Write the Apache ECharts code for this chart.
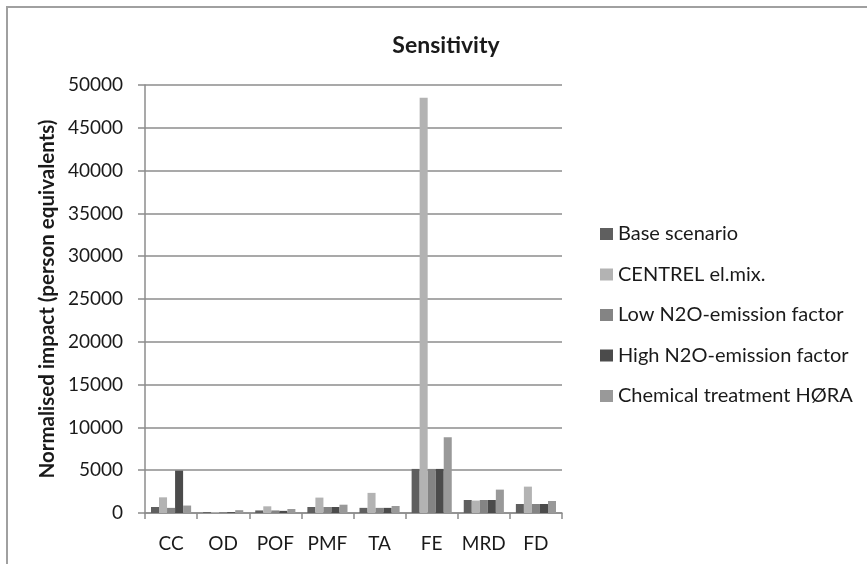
<!DOCTYPE html>
<html>
<head>
<meta charset="utf-8">
<script src="https://cdn.jsdelivr.net/npm/echarts@6/dist/echarts.min.js"></script>
<style>
  html, body { margin: 0; padding: 0; background: #fff; }
  #frame { position: absolute; left: 6px; top: 6px; width: 880px; height: 580px; border: 2px solid #a0a0a0; box-sizing: border-box; }
  #chart { position: absolute; left: 0; top: 0; width: 867px; height: 564px; }
</style>
</head>
<body>
<div id="frame"></div>
<div id="chart"></div>
<script>
// Impact categories on the x axis
const categories = ['CC', 'OD', 'POF', 'PMF', 'TA', 'FE', 'MRD', 'FD'];

// Normalised impact per scenario (person equivalents)
const baseScenario   = [700, 100, 300, 700, 600, 5150, 1520, 1050];
const centrelMix     = [1830, 100, 780, 1800, 2350, 48500, 1450, 3080];
const lowN2O         = [600, 100, 300, 700, 600, 5150, 1520, 1050];
const highN2O        = [4950, 100, 250, 700, 600, 5150, 1520, 1050];
const chemicalHora   = [870, 330, 470, 970, 820, 8850, 2730, 1400];

const seriesNames = ['Base scenario', 'CENTREL el.mix.', 'Low N2O-emission factor',
                     'High N2O-emission factor', 'Chemical treatment HØRA'];
const seriesData = [baseScenario, centrelMix, lowN2O, highN2O, chemicalHora];
const seriesColors = ['#5f5f5f', '#b3b3b3', '#848484', '#4b4b4b', '#999999'];

// Value axis ticks
const yMin = 0, yMax = 50000, yStep = 5000;

const font = 'Lato, "Open Sans", sans-serif';
const chart = echarts.init(document.getElementById('chart'));

chart.setOption({
  animation: false,
  backgroundColor: 'transparent',
  title: {
    text: 'Sensitivity',
    left: 441, top: 29, textAlign: 'center',
    textStyle: { fontFamily: font, fontWeight: 'bold', fontSize: 23, color: '#1a1a1a' }
  },
  legend: {
    orient: 'vertical',
    left: 595, top: 219,
    itemWidth: 13, itemHeight: 12,
    itemGap: 20.5,
    icon: 'rect',
    textStyle: { fontFamily: font, fontSize: 20, color: '#1a1a1a', lineHeight: 20 },
    data: seriesNames
  },
  grid: { left: 145, top: 85, width: 417, height: 428, containLabel: false },
  xAxis: {
    type: 'category',
    data: categories,
    boundaryGap: true,
    axisLine: { lineStyle: { color: '#8c8c8c', width: 1.5 } },
    axisTick: { show: true, interval: 0, length: 6, lineStyle: { color: '#8c8c8c', width: 1.5 } },
    axisLabel: { fontFamily: font, fontSize: 19, color: '#1a1a1a', margin: 21, interval: 0 }
  },
  yAxis: {
    type: 'value',
    min: yMin, max: yMax, interval: yStep,
    name: 'Normalised impact (person equivalents)',
    nameLocation: 'middle',
    nameGap: 87,
    nameTextStyle: { fontFamily: font, fontWeight: 700, fontSize: 20.5, color: '#1a1a1a' },
    axisLine: { show: true, lineStyle: { color: '#8c8c8c', width: 1.5 } },
    axisTick: { show: true, length: 7, lineStyle: { color: '#8c8c8c', width: 1.5 } },
    axisLabel: { fontFamily: font, fontSize: 19, color: '#1a1a1a', margin: 22, formatter: v => String(v) },
    splitLine: { show: true, lineStyle: { color: '#8c8c8c', width: 1.5 } }
  },
  series: seriesData.map((d, i) => ({
    name: seriesNames[i],
    type: 'bar',
    data: d,
    barGap: '0%',
    barCategoryGap: '23%',
    itemStyle: { color: seriesColors[i] }
  }))
});
</script>
</body>
</html>
